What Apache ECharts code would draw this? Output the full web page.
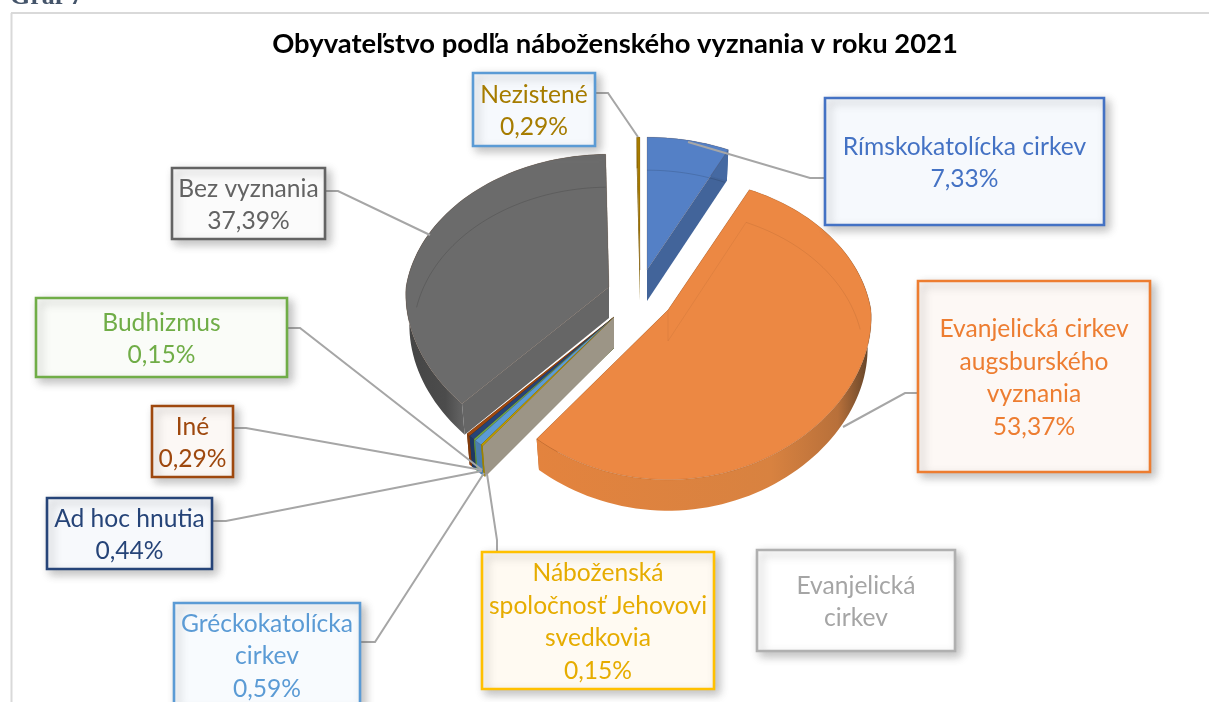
<!DOCTYPE html>
<html>
<head>
<meta charset="utf-8">
<style>html,body{margin:0;padding:0;background:#fff;overflow:hidden}#c{width:1209px;height:702px}</style>
<script src="https://cdn.jsdelivr.net/npm/echarts@6/dist/echarts.min.js"></script>
</head>
<body>
<div id="c"></div>
<script>
// ---- data (clockwise from 12 o'clock) ----
const categories = [
  'Rímskokatolícka cirkev',
  'Evanjelická cirkev\naugsburského\nvyznania',
  'Náboženská\nspoločnosť Jehovovi\nsvedkovia',
  'Gréckokatolícka\ncirkev',
  'Budhizmus',
  'Ad hoc hnutia',
  'Iné',
  'Bez vyznania',
  'Nezistené'
];
const shares = [7.33, 53.37, 0.15, 0.59, 0.15, 0.44, 0.29, 37.39, 0.29];
const extraCategory = 'Evanjelická\ncirkev';
const chartTitle = 'Obyvateľstvo podľa náboženského vyznania v roku 2021';
const captionText = 'Graf 7';

// ---- styles ----
const FONT = 'Lato, "Open Sans", sans-serif';
const faceColors = ['#5480c6','#ec8843','#bfa000','#5b9bd5','#70ad47','#264478','#9e480e','#6b6b6b','#a67c00'];
const textColors = ['#4472c4','#ed7d31','#e6ac00','#5b9bd5','#70ad47','#264478','#9e480e','#636363','#a67c00'];
const boxFills   = ['#f6f9fd','#fdf8f5','#fffaf2','#f8fbfe','#fafcf8','#f7f9fc','#fcf8f5','#fbfbfb','#f6f9fd'];
const borderColors = ['#4472c4','#ed7d31','#ffc000','#5b9bd5','#70ad47','#264478','#9e480e','#636363','#5b9bd5'];
// 3-D look of the pie
const VIEW = {cx:635, cy:295, rx:203, ry:149, k:0.122, depth:31};
// explosion of each slice
const explode = [[12,-25],[33,15],[-21,22],[-21,22],[-21,22],[-21,22],[-21,22],[-26,-8],[5,-25]];
const drawOrder = [8,0,7,6,5,4,3,2,1];
// callout layout
const boxes = [
  [824,97,281,129],[917,280,234,193],[481,551,234,139],[173,602,188,106],
  [35,297,253,81],[46,497,167,73],[151,405,83,73],[171,167,155,73],[472,72,124,75]
];
const leaders = [
  [[824,178],[810,178],[688,142]],
  [[917,393],[905,393],[843,427]],
  [[497,551],[497,540],[487,474]],
  [[361,642],[375,642],[484,473]],
  [[288,328],[300,328],[482,470]],
  [[213,521],[226,521],[482,471]],
  [[234,428],[246,428],[482,470]],
  [[326,191],[338,191],[430,235]],
  [[596,93],[608,93],[638,137]]
];

const total = shares.reduce((a,b)=>a+b,0);
const starts = []; { let acc = 0; shares.forEach(v=>{ starts.push(acc/total*360); acc+=v; }); }

function project(deg, off, d, scale){
  const a = deg*Math.PI/180, u=Math.sin(a)*(scale||1), v=-Math.cos(a)*(scale||1), s=1/(1-VIEW.k*v);
  const sx = v>0 ? 1+0.05*v : s;
  const inset = d>0 ? 0.982 : 1;
  return [VIEW.cx+off[0]+VIEW.rx*u*sx*inset, VIEW.cy+off[1]+VIEW.ry*v*s+(d||0)];
}
function arc(a0,a1,off,d,scale){
  const n=Math.max(2,Math.ceil((a1-a0)/2)), p=[];
  for(let i=0;i<=n;i++) p.push(project(a0+(a1-a0)*i/n,off,d,scale));
  return p;
}
function darker(hex,f){
  const n=parseInt(hex.slice(1),16);
  return 'rgb('+[(n>>16)&255,(n>>8)&255,n&255].map(c=>Math.round(c*f)).join(',')+')';
}
function renderSlice(params, api){
  const i = drawOrder[params.dataIndex];
  const off = explode[i], col = faceColors[i], d = VIEW.depth;
  const a0 = starts[i], a1 = a0 + api.value(0)/total*360;
  const apex=[VIEW.cx+off[0],VIEW.cy+off[1]], apexB=[apex[0],apex[1]+d];
  const top=arc(a0,a1,off,0), bot=arc(a0,a1,off,d);
  const children=[];
  const isTan = (i===2);
  const cut=(ang,fill)=>{const p=project(ang,off,0);const q=project(ang,off,d);
    children.push({type:'polygon',shape:{points:[apex,p,q,apexB]},style:{fill:fill}});};
  const wallFill = darker(col,0.78);
  cut(a1, i===7 ? '#666666' : wallFill);
  cut(a0, isTan ? '#9c9586' : (i===7 ? '#666666' : wallFill));
  let outerFill = darker(col,0.82);
  if(i===1) outerFill={type:'linear',x:0,y:0,x2:1,y2:0,colorStops:[
     {offset:0,color:'#e3833e'},{offset:0.7,color:'#d88240'},{offset:0.9,color:'#b8703a'},{offset:1,color:'#5e4128'}]};
  if(i===7) outerFill={type:'linear',x:0,y:0,x2:1,y2:0,colorStops:[
     {offset:0,color:'#444444'},{offset:0.2,color:'#4c4c4c'},{offset:0.28,color:'#626262'},{offset:1,color:'#666666'}]};
  children.push({type:'polygon',shape:{points:top.concat(bot.slice().reverse())},style:{fill:outerFill}});
  children.push({type:'polygon',shape:{points:[apex].concat(top)},style:{fill:col,stroke:'rgba(90,40,0,0.16)',lineWidth:1}});
  if(a1-a0>10){
    // far rim seen through the translucent top
    const rimAlpha = i===1 ? 0.07 : 0.13;
    const rim=arc(a0,a1,off,d-1,0.975).filter(p=>p[1]<apex[1]+d*0.7);
    children.push({type:'polyline',shape:{points:rim},style:{fill:'none',stroke:'rgba(0,0,0,'+rimAlpha+')',lineWidth:1}});
    if(i===1){
      const e=project(a0,off,d-1,0.975);
      children.push({type:'polyline',shape:{points:[apex,apexB,e]},style:{fill:'none',stroke:'rgba(0,0,0,0.05)',lineWidth:1}});
    }
  }
  return {type:'group',children:children};
}

const graphics = [];
graphics.push({type:'line',z:1,silent:true,shape:{x1:11.5,y1:13,x2:11.5,y2:702},style:{stroke:'#d9d9d9',lineWidth:2}});
graphics.push({type:'line',z:1,silent:true,shape:{x1:11,y1:13,x2:1209,y2:13},style:{stroke:'#d9d9d9',lineWidth:2}});
graphics.push({type:'text',z:5,silent:true,x:10,y:-16,style:{text:captionText,font:'bold 26px "Liberation Serif", serif',fill:'#44546a'}});
graphics.push({type:'text',z:5,silent:true,x:615,y:44,style:{text:chartTitle,font:'bold 27.4px '+FONT,fill:'#000',align:'center',verticalAlign:'middle'}});

function addBox(b,label,textCol,fill,border){
  graphics.push({type:'rect',z:60,silent:true,shape:{x:b[0]+1,y:b[1]+1,width:b[2]-2,height:b[3]-2},
    style:{fill:fill,stroke:border,lineWidth:2.6,shadowBlur:9,shadowOffsetX:4,shadowOffsetY:4,shadowColor:'rgba(90,90,90,0.38)'}});
  graphics.push({type:'text',z:61,silent:true,x:b[0]+b[2]/2,y:b[1]+b[3]/2+1.5,
    style:{text:label,font:'24.6px '+FONT,lineHeight:32.5,fill:textCol,align:'center',verticalAlign:'middle'}});
}
leaders.forEach(pts=>graphics.push({type:'polyline',z:50,silent:true,shape:{points:pts},style:{fill:'none',stroke:'#a6a6a6',lineWidth:2}}));
categories.forEach((c,i)=>{
  addBox(boxes[i], c+'\n'+shares[i].toFixed(2).replace('.',',')+'%', textColors[i], boxFills[i], borderColors[i]);
});
addBox([756,549,200,103], extraCategory, '#a5a5a5', '#ffffff', '#b0b0b0');

const chart = echarts.init(document.getElementById('c'), null, {renderer:'canvas'});
chart.setOption({
  animation:false,
  backgroundColor:'#ffffff',
  series:[{
    type:'custom',
    coordinateSystem:'none',
    silent:true,
    renderItem:renderSlice,
    data:drawOrder.map(i=>({name:categories[i],value:[shares[i]]}))
  }],
  graphic:{elements:graphics}
});
</script>
</body>
</html>
